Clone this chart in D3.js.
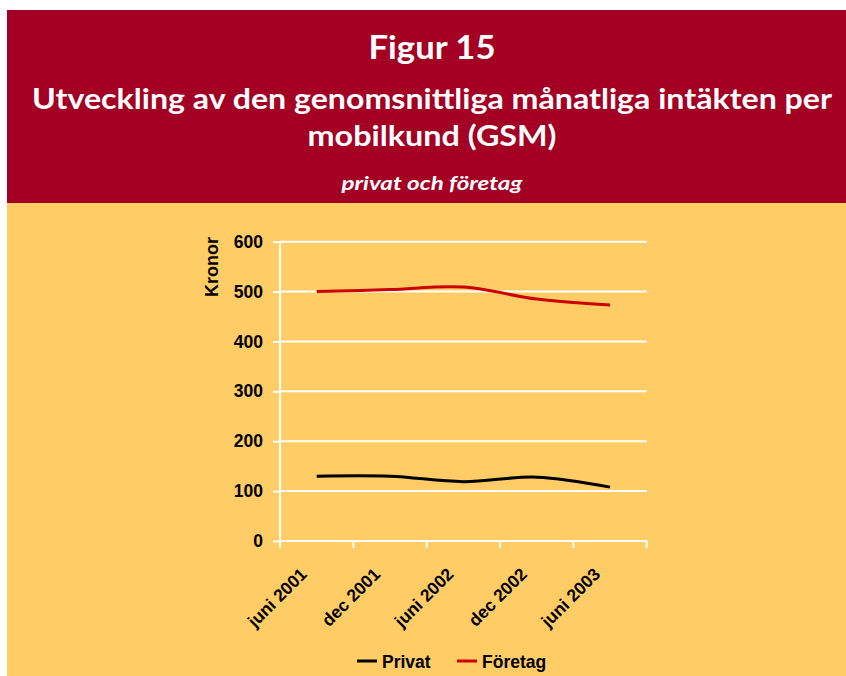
<!DOCTYPE html>
<html>
<head>
<meta charset="utf-8">
<script src="https://cdn.jsdelivr.net/npm/d3@7"></script>
<style>
  html, body { margin: 0; padding: 0; background: #fff; }
  svg { display: block; }
</style>
</head>
<body>
<div id="chart"></div>
<script>
// values
var categories = ["juni 2001", "dec 2001", "juni 2002", "dec 2002", "juni 2003"];
var privat = [130, 130, 119, 128, 108];
var foretag = [500, 504, 509, 485, 473];
var yTicks = [0, 100, 200, 300, 400, 500, 600];
var seriesNames = ["Privat", "Företag"];

var W = 846, H = 676;
var red = "#a30024", yellow = "#ffcc66";
var chartFont = "'Liberation Sans', Arial, sans-serif";
var titleFont = "Lato, 'Open Sans', sans-serif";

var svg = d3.select("#chart").append("svg")
    .attr("width", W)
    .attr("height", H);

// background panels
svg.append("rect").attr("x", 7).attr("y", 10).attr("width", W - 7).attr("height", 193).attr("fill", red);
svg.append("rect").attr("x", 7).attr("y", 203).attr("width", W - 7).attr("height", H - 203).attr("fill", yellow);

// header texts
function headerText(txt, y, size, len, italic) {
    svg.append("text")
        .attr("x", 432).attr("y", y)
        .attr("text-anchor", "middle")
        .attr("fill", "#fff")
        .attr("font-family", titleFont)
        .attr("font-weight", "bold")
        .attr("font-style", italic ? "italic" : "normal")
        .attr("font-size", size)
        .attr("textLength", len)
        .attr("lengthAdjust", "spacingAndGlyphs")
        .text(txt);
}
headerText("Figur 15", 59, 33, 127);
headerText("Utveckling av den genomsnittliga månatliga intäkten per", 109, 28, 800);
headerText("mobilkund (GSM)", 146, 28, 249);
headerText("privat och företag", 190, 19, 181, true);

// scales
var x = d3.scaleBand().domain(categories).range([280, 646.7]).padding(0);
var y = d3.scaleLinear().domain([0, 600]).range([541, 241.7]);

var plot = svg.append("g");

// gridlines
plot.selectAll(".grid").data(yTicks.filter(function(d) { return d > 0; }))
    .enter().append("line")
    .attr("x1", 280).attr("x2", 646.7)
    .attr("y1", function(d) { return y(d); })
    .attr("y2", function(d) { return y(d); })
    .attr("stroke", "#fff")
    .attr("stroke-width", 2);

// y axis
var yAxis = d3.axisLeft(y).tickValues(yTicks).tickSize(7).tickPadding(10);
var gy = plot.append("g").attr("transform", "translate(280,0)").call(yAxis);
gy.select(".domain").remove();
gy.selectAll(".tick line").attr("stroke", "#fff").attr("stroke-width", 2);
gy.selectAll(".tick text")
    .attr("font-family", chartFont)
    .attr("font-weight", "bold")
    .attr("font-size", 17.5)
    .attr("fill", "#000");
plot.append("line")
    .attr("x1", 280).attr("x2", 280)
    .attr("y1", y(600)).attr("y2", y(0) + 7)
    .attr("stroke", "#fff").attr("stroke-width", 2);

// x axis line and boundary ticks
plot.append("line")
    .attr("x1", 280).attr("x2", 646.7)
    .attr("y1", y(0)).attr("y2", y(0))
    .attr("stroke", "#fff").attr("stroke-width", 2);
var bounds = categories.map(function(c) { return x(c); }).concat([x.range()[1]]);
plot.selectAll(".xtick").data(bounds)
    .enter().append("line")
    .attr("x1", function(d) { return d; })
    .attr("x2", function(d) { return d; })
    .attr("y1", y(0)).attr("y2", y(0) + 7)
    .attr("stroke", "#fff").attr("stroke-width", 2);

// rotated category labels
plot.selectAll(".xlab").data(categories)
    .enter().append("text")
    .attr("transform", function(d) {
        return "translate(" + (x(d) + x.bandwidth() / 2 - 13) + "," + (y(0) + 30) + ") rotate(-45)";
    })
    .attr("text-anchor", "end")
    .attr("dy", "0.35em")
    .attr("font-family", chartFont)
    .attr("font-weight", "bold")
    .attr("font-size", 17.5)
    .text(function(d) { return d; });

// y axis title
svg.append("text")
    .attr("transform", "translate(218,267) rotate(-90)")
    .attr("text-anchor", "middle")
    .attr("font-family", chartFont)
    .attr("font-weight", "bold")
    .attr("font-size", 18)
    .text("Kronor");

// lines
var line = d3.line()
    .x(function(d, i) { return x(categories[i]) + x.bandwidth() / 2; })
    .y(function(d) { return y(d); })
    .curve(d3.curveCatmullRom.alpha(0.5));

plot.append("path").datum(privat)
    .attr("d", line)
    .attr("fill", "none")
    .attr("stroke", "#000")
    .attr("stroke-width", 3);

plot.append("path").datum(foretag)
    .attr("d", line)
    .attr("fill", "none")
    .attr("stroke", "#cc0000")
    .attr("stroke-width", 3);

// legend
var legendColors = ["#000", "#cc0000"];
var legendX = [357, 457];
var legend = svg.selectAll(".leg").data(seriesNames)
    .enter().append("g")
    .attr("transform", function(d, i) { return "translate(" + legendX[i] + ",661)"; });
legend.append("line")
    .attr("x1", 0).attr("x2", 20)
    .attr("stroke", function(d, i) { return legendColors[i]; })
    .attr("stroke-width", 3);
legend.append("text")
    .attr("x", 25).attr("y", 7)
    .attr("font-family", chartFont)
    .attr("font-weight", "bold")
    .attr("font-size", 17.5)
    .text(function(d) { return d; });
</script>
</body>
</html>
